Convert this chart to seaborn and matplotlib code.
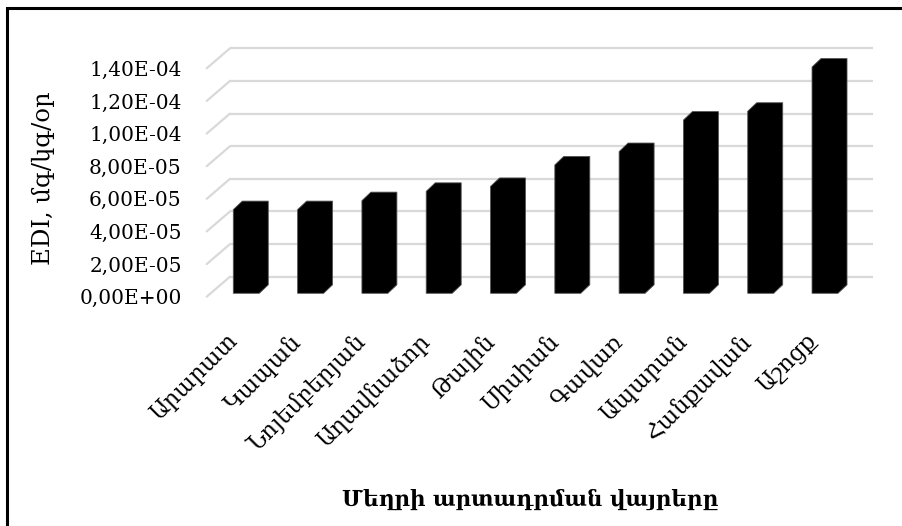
import numpy as np
import pandas as pd
import matplotlib
matplotlib.use("Agg")
import matplotlib.pyplot as plt
import seaborn as sns
from matplotlib.patches import Polygon, Rectangle

# ---- data ----
categories = ["Արարատ", "Կապան", "Նոյեմբերյան", "Աղավնաձոր", "Թալին",
              "Սիսիան", "Գավառ", "Ապարան", "Հանքավան", "Աշոցք"]
edi_values = [5.13e-5, 5.13e-5, 5.68e-5, 6.25e-5, 6.55e-5,
              7.87e-5, 8.69e-5, 10.62e-5, 11.16e-5, 13.87e-5]
y_ticks = [0.0, 2e-5, 4e-5, 6e-5, 8e-5, 10e-5, 12e-5, 14e-5]
y_tick_labels = ["0,00E+00", "2,00E-05", "4,00E-05", "6,00E-05",
                 "8,00E-05", "1,00E-04", "1,20E-04", "1,40E-04"]
x_title = "Մեղրի արտադրման վայրերը"
y_title = "EDI, մգ/կգ/օր"

sns.set_theme(style="white")
plt.rcParams["font.family"] = ["DejaVu Serif", "DejaVu Sans"]

W, H = 903, 526
fig = plt.figure(figsize=(W / 100, H / 100), dpi=100)
ax = fig.add_axes([206.7 / W, 1 - 296.7 / H, 643 / W, (296.7 - 68.3) / H])

df = pd.DataFrame({"site": categories, "edi": edi_values})
sns.barplot(data=df, x="site", y="edi", color="black", saturation=1,
            width=0.404, ax=ax, zorder=3)
ax.set_xlim(-0.5505, 9.449)
ax.set_ylim(0, 1.4e-4)

# data units per pixel
inv = ax.transData.inverted()
p0 = inv.transform((0, 0))
p1 = inv.transform((1, 1))
ux, uy = p1 - p0

# back wall gridlines with perspective connectors
xl0, xl1 = ax.get_xlim()
bdx, bdy = 23.3 * ux, 20 * uy
for v in y_ticks:
    ax.plot([xl0 + bdx, xl1 + bdx], [v + bdy, v + bdy], color="#d9d9d9",
            lw=1.6, zorder=1, clip_on=False, solid_capstyle="butt")
    ax.plot([xl0, xl0 + bdx], [v, v + bdy], color="#d9d9d9",
            lw=1.6, zorder=1, clip_on=False)

# give bars their depth (3D-like bevel)
sx, sy = 4.2 * ux, 3.4 * uy
ddx, ddy = 9 * ux, 8.5 * uy
for patch in list(ax.patches):
    x0, y0 = patch.get_x(), patch.get_y()
    w, h = patch.get_width(), patch.get_height()
    verts = [(x0 + sx, y0 + sy), (x0 + sx, y0 + h + sy),
             (x0 + sx + ddx, y0 + h + sy + ddy),
             (x0 + w + sx + ddx, y0 + h + sy + ddy),
             (x0 + w + sx + ddx, y0 + sy + ddy),
             (x0 + w + sx, y0 + sy)]
    ax.add_patch(Polygon(verts, closed=True, facecolor="black",
                         edgecolor="#555555", lw=0.6, zorder=3, clip_on=False))
    patch.set_visible(False)

for s in ax.spines.values():
    s.set_visible(False)
ax.set_xlabel("")
ax.set_ylabel("")
ax.set_yticks(y_ticks, y_tick_labels)
ax.tick_params(axis="y", length=0, pad=18, labelsize=14.5, labelcolor="black")
ax.tick_params(axis="x", length=0, pad=24, labelsize=16.5, labelcolor="black")
for lab in ax.get_xticklabels():
    lab.set_rotation(45)
    lab.set_ha("right")
    lab.set_va("top")

fig.text(530 / W, 1 - 500 / H, x_title, ha="center", va="center",
         fontsize=15.5, fontweight="bold", color="black")
fig.text(43 / W, 1 - 178 / H, y_title, ha="center", va="center",
         rotation=90, fontsize=17.5, color="black")

# chart border
fig.patches.append(Rectangle((7 / W, -0.1), 1.2, (526 - 8) / H + 0.1,
                             transform=fig.transFigure, fill=False,
                             edgecolor="black", lw=2.2))

fig.savefig("out.png", dpi=100, facecolor="white")
